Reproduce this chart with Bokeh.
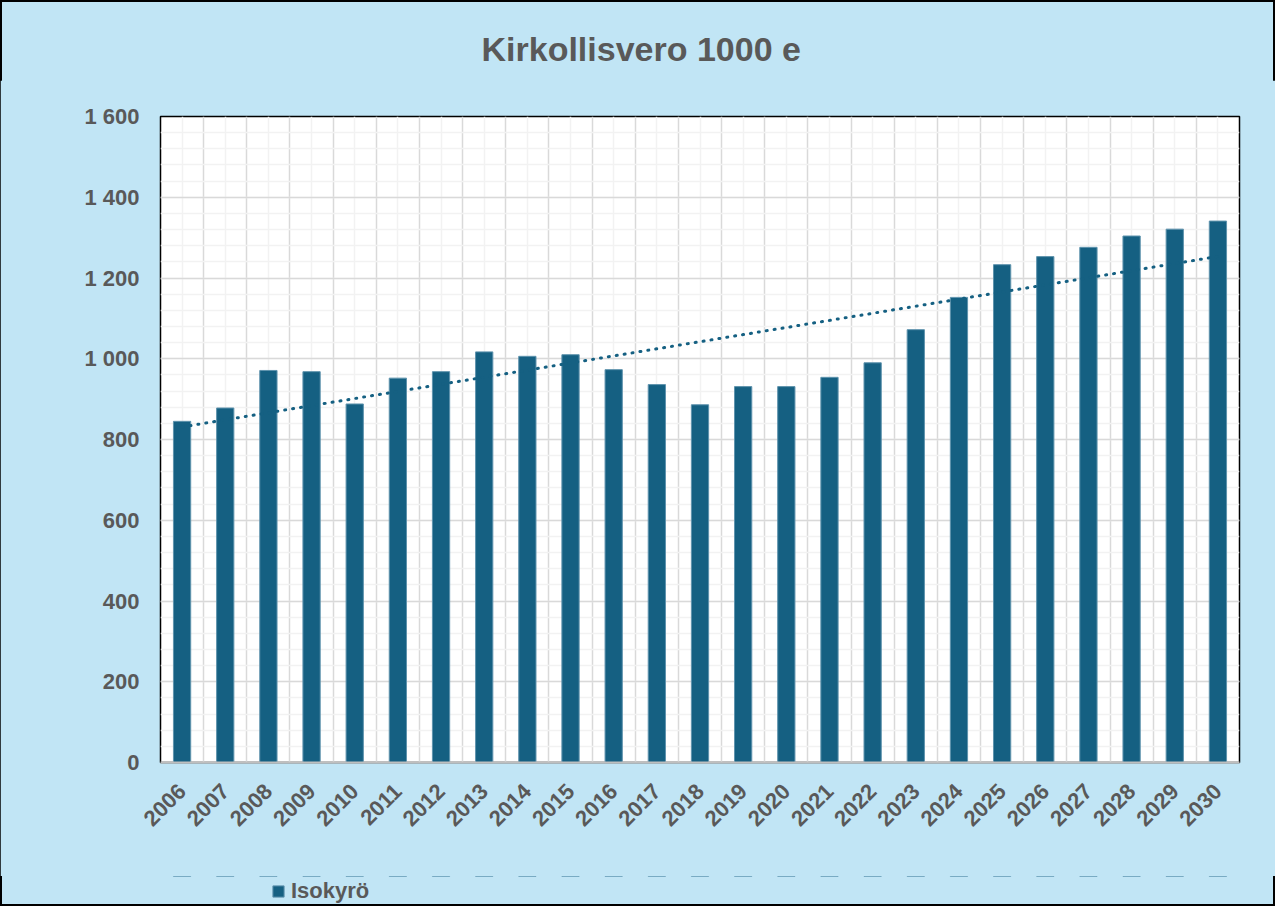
import math
import numpy as np
from bokeh.plotting import figure
from bokeh.layouts import column
from bokeh.models import (Range1d, FixedTicker, SingleIntervalTicker, Label, Legend,
                          LegendItem, CustomJSTickFormatter)
from bokeh.embed import file_html
from bokeh.resources import INLINE

# ---- data ----
years = [2006, 2007, 2008, 2009, 2010, 2011, 2012, 2013, 2014, 2015, 2016, 2017,
         2018, 2019, 2020, 2021, 2022, 2023, 2024, 2025, 2026, 2027, 2028, 2029, 2030]
values = [845, 878, 971, 968, 888, 952, 968, 1017, 1006, 1010, 973, 936,
          886, 931, 931, 954, 990, 1072, 1152, 1233, 1253, 1276, 1304, 1321, 1341]
series_name = "Isokyrö"
title_text = "Kirkollisvero 1000 e"

# ---- styles ----
BAR = "#156082"
BAR_EDGE = "#5F93AD"
BG = "#C1E5F5"
GREY = "#595959"
FONT = "Liberation Sans"
W = 1275

xs = list(range(1, len(years) + 1))
coef = np.polyfit(xs, values, 1)
trend = [coef[0] * x + coef[1] for x in xs]


def strip(height, y_range):
    f = figure(width=W, height=height, output_backend="svg", toolbar_location=None,
               x_axis_type=None, y_axis_type=None, min_border=0,
               x_range=Range1d(0.5, len(years) + 0.5), y_range=y_range)
    f.title = None
    f.border_fill_alpha = 0
    f.background_fill_alpha = 0
    f.outline_line_color = None
    f.xgrid.visible = False
    f.ygrid.visible = False
    return f


# ---- title strip (frames of the column are aligned with the main chart's frame) ----
top = strip(80, Range1d(0, 1))
top.add_layout(Label(x=321, y=32, x_units="screen", y_units="screen", text=title_text,
                     text_font=FONT, text_font_size="34px", text_font_style="bold",
                     text_color=GREY, text_baseline="middle", text_align="left"))

# ---- main chart ----
p = figure(width=W, height=796, output_backend="svg", toolbar_location=None,
           x_range=Range1d(0.5, len(years) + 0.5), y_range=Range1d(0, 1600),
           min_border_left=160, min_border_right=36, min_border_top=36,
           min_border_bottom=114)
p.title = None
p.border_fill_color = BG
p.background_fill_color = "white"
p.outline_line_color = "black"
p.outline_line_width = 1.5

bars = p.vbar(x=xs, top=values, width=0.4, fill_color=BAR, line_color=BAR_EDGE, line_width=1)
p.line(xs, trend, line_color=BAR, line_width=3, line_dash="1 7", line_cap="round")

p.xaxis.ticker = FixedTicker(ticks=xs)
p.xaxis.major_label_overrides = {x: str(y) for x, y in zip(xs, years)}
p.xaxis.major_label_orientation = math.pi / 4
p.xaxis.major_label_text_font = FONT
p.xaxis.major_label_text_font_size = "22px"
p.xaxis.major_label_text_font_style = "bold"
p.xaxis.major_label_text_color = GREY
p.xaxis.axis_line_color = "#BFBFBF"
p.xaxis.axis_line_width = 2
p.xaxis.major_tick_line_color = None
p.xaxis.minor_tick_line_color = None
p.xaxis.major_label_standoff = 19

p.yaxis.ticker = SingleIntervalTicker(interval=200, num_minor_ticks=5)
p.yaxis.formatter = CustomJSTickFormatter(code="""
    return tick.toFixed(0).replace(/\\B(?=(\\d{3})+(?!\\d))/g, " ");
""")
p.yaxis.major_label_text_font = FONT
p.yaxis.major_label_text_font_size = "22px"
p.yaxis.major_label_text_font_style = "bold"
p.yaxis.major_label_text_color = GREY
p.yaxis.axis_line_color = None
p.yaxis.major_tick_line_color = None
p.yaxis.minor_tick_line_color = None
p.yaxis.major_label_standoff = 15

p.ygrid.grid_line_color = "#D9D9D9"
p.ygrid.grid_line_width = 1.5
p.ygrid.minor_grid_line_color = "#F2F2F2"
p.ygrid.minor_grid_line_width = 1.5
p.xgrid.ticker = FixedTicker(ticks=[x - 0.5 for x in xs] + [len(xs) + 0.5], minor_ticks=xs)
p.xgrid.grid_line_color = "#D9D9D9"
p.xgrid.grid_line_width = 1.5
p.xgrid.minor_grid_line_color = "#F2F2F2"
p.xgrid.minor_grid_line_width = 1.5

# ---- legend strip: same series, drawn far outside the strip's visible y-range, only its key shows ----
bottom = strip(30, Range1d(-3000, -2999))
key = bottom.vbar(x=xs, top=values, width=0.4, fill_color=BAR, line_color=BAR_EDGE)
legend = Legend(items=[LegendItem(label=series_name, renderers=[key])],
                location=(111, 2), orientation="horizontal",
                background_fill_alpha=0, border_line_color=None,
                label_text_font=FONT, label_text_font_size="22px",
                label_text_font_style="bold", label_text_color=GREY,
                glyph_width=14, glyph_height=14, padding=0, margin=0, label_standoff=6)
bottom.add_layout(legend, "center")

page = column(top, p, bottom, spacing=0)
page.styles = {"background-color": BG, "outline": "2px solid black", "outline-offset": "-2px"}

open("out.html", "w").write(file_html(page, INLINE))
